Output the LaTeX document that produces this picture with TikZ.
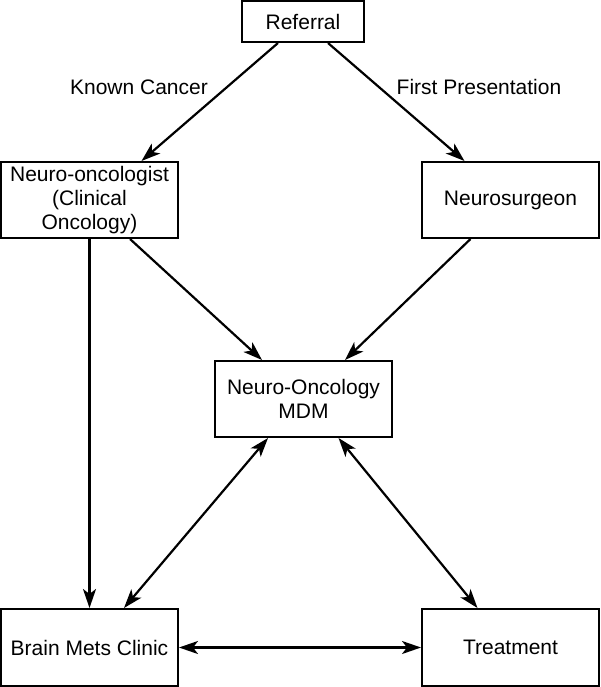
\documentclass[tikz,border=0pt]{standalone}
\usepackage{fontspec}
\setmainfont{Liberation Sans}
\usetikzlibrary{arrows.meta}
\begin{document}
\begin{tikzpicture}[x=1pt,y=-1pt,
  box/.style={draw, line width=2pt, minimum width=177pt, minimum height=76pt,
    inner sep=0pt, align=center, font=\fontsize{21}{24}\selectfont},
  lbl/.style={font=\fontsize{21}{24}\selectfont, inner sep=0pt},
  tip/.tip={Stealth[length=19pt,width=13pt,inset=5pt]},
  conn/.style={line width=2.2pt, -tip},
  biconn/.style={line width=2.2pt, tip-tip}]
\useasboundingbox (0,0) rectangle (600,687);
\node[box, minimum width=122pt, minimum height=40.5pt] (ref) at (303,21.75) {Referral};
\node[lbl] (kc) at (139,87) {Known Cancer};
\node[lbl] (fp) at (479,87) {First Presentation};
\node[box] (nonc) at (89.5,200) {Neuro-oncologist\\(Clinical\\Oncology)};
\node[box] (nsurg) at (510.5,200) {Neurosurgeon};
\node[box] (mdm) at (303.5,399) {Neuro-Oncology\\MDM};
\node[box, minimum height=77pt] (bmc) at (89.5,647.5) {Brain Mets Clinic};
\node[box, minimum height=77pt] (treat) at (510.5,647.5) {Treatment};
\draw[conn] ([xshift=-25pt]ref.south) -- ([xshift=52pt]nonc.north);
\draw[conn] ([xshift=25pt]ref.south) -- ([xshift=-46pt]nsurg.north);
\draw[conn] ([xshift=40.5pt]nonc.south) -- ([xshift=-41.5pt]mdm.north);
\draw[conn] ([xshift=-40pt]nsurg.south) -- ([xshift=41.5pt]mdm.north);
\draw[conn] (nonc.south) -- (bmc.north);
\draw[biconn] ([xshift=-35.5pt]mdm.south) -- ([xshift=34.5pt]bmc.north);
\draw[biconn] ([xshift=35pt]mdm.south) -- ([xshift=-33pt]treat.north);
\draw[biconn] (bmc.east) -- (treat.west);
\end{tikzpicture}
\end{document}
